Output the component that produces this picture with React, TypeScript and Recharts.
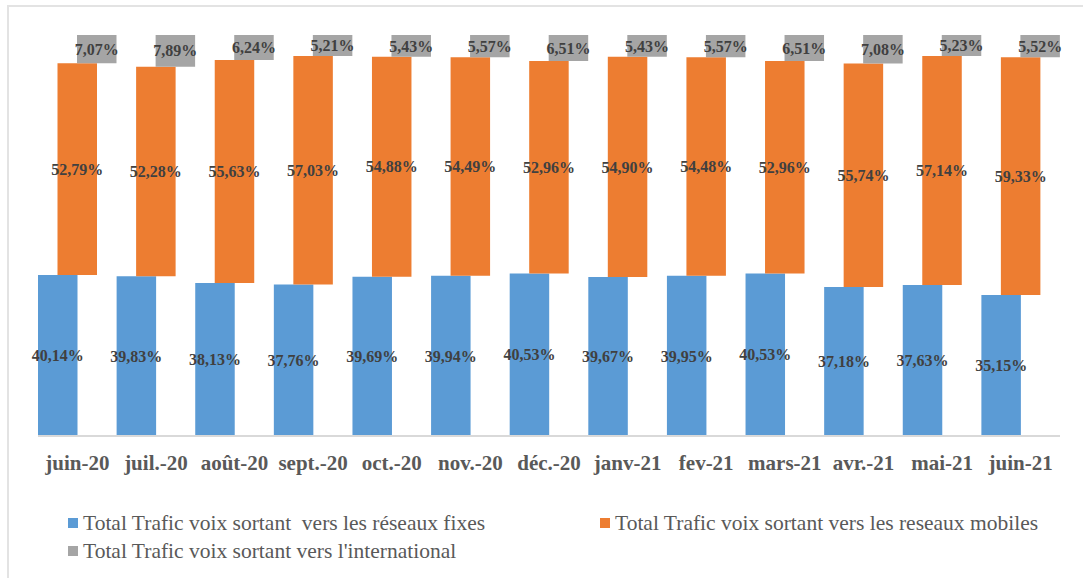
import React from "react";
import { BarChart, Bar, XAxis, YAxis, LabelList, Legend } from "recharts";

const months = [
  "juin-20", "juil.-20", "août-20", "sept.-20", "oct.-20", "nov.-20", "déc.-20",
  "janv-21", "fev-21", "mars-21", "avr.-21", "mai-21", "juin-21",
];
const fixes = [40.14, 39.83, 38.13, 37.76, 39.69, 39.94, 40.53, 39.67, 39.95, 40.53, 37.18, 37.63, 35.15];
const mobiles = [52.79, 52.28, 55.63, 57.03, 54.88, 54.49, 52.96, 54.9, 54.48, 52.96, 55.74, 57.14, 59.33];
const international = [7.07, 7.89, 6.24, 5.21, 5.43, 5.57, 6.51, 5.43, 5.57, 6.51, 7.08, 5.23, 5.52];

const seriesNames = [
  "Total Trafic voix sortant  vers les réseaux fixes",
  "Total Trafic voix sortant vers les reseaux mobiles",
  "Total Trafic voix sortant vers l'international",
];
const seriesColors = ["#5b9bd5", "#ed7d31", "#a5a5a5"];

const data = months.map((m, i) => ({
  month: m,
  fixe: fixes[i],
  mobile: mobiles[i],
  intl: international[i],
  fixeRange: [0, fixes[i]],
  mobileRange: [fixes[i], fixes[i] + mobiles[i]],
  intlRange: [fixes[i] + mobiles[i], fixes[i] + mobiles[i] + international[i]],
}));

const FONT = "'Liberation Serif', 'Times New Roman', serif";
const fmt = (v: any) => Number(v).toFixed(2).replace(".", ",") + "%";

const labelProps = {
  position: "center" as const,
  fill: "#404040",
  fontSize: 16,
  fontWeight: "bold",
  fontFamily: FONT,
  formatter: fmt,
};

const renderLegend = () => {
  return (
    <div style={{ display: "flex", flexWrap: "wrap", paddingLeft: 68, width: 1150, boxSizing: "border-box" }}>
      {seriesNames.map((name, i) => (
        <div key={i} style={{ width: 532, display: "flex", alignItems: "center", height: 28 }}>
          <span style={{ display: "inline-block", width: 10, height: 10, background: seriesColors[i], marginRight: 5, flexShrink: 0 }} />
          <span style={{ fontFamily: FONT, fontSize: 21.5, color: "#595959", whiteSpace: "pre", lineHeight: "28px" }}>
            {name}
          </span>
        </div>
      ))}
    </div>
  );
};

export default function App() {
  return (
    <div style={{ position: "absolute", left: 0, top: 0, width: 1083, height: 578, overflow: "hidden", background: "#fff" }}>
      <div style={{ position: "absolute", left: 7, top: 5, width: 1200, height: 700, border: "2px solid #e3e3e3", boxSizing: "border-box" }} />
      <div style={{ position: "absolute", left: 0, top: 0 }}>
        <BarChart
          width={1083}
          height={578}
          data={data}
          margin={{ top: 35, right: 23, left: 38, bottom: 102 }}
          barGap={-20}
        >
          <XAxis
            dataKey="month"
            height={40}
            tickLine={false}
            tickMargin={13}
            axisLine={{ stroke: "#d9d9d9", strokeWidth: 2 }}
            tick={{ fill: "#595959", fontSize: 21, fontWeight: "bold", fontFamily: FONT }}
            interval={0}
          />
          <YAxis hide width={0} domain={[0, 100]} />
          <Legend
            layout="horizontal"
            verticalAlign="middle"
            align="center"
            content={renderLegend}
            wrapperStyle={{ top: 509, left: 0, width: 1083, overflow: "hidden" }}
          />
          <Bar dataKey="fixeRange" name={seriesNames[0]} fill={seriesColors[0]} barSize={39.5} isAnimationActive={false}>
            <LabelList dataKey="fixe" {...labelProps} />
          </Bar>
          <Bar dataKey="mobileRange" name={seriesNames[1]} fill={seriesColors[1]} barSize={39.5} isAnimationActive={false}>
            <LabelList dataKey="mobile" {...labelProps} />
          </Bar>
          <Bar dataKey="intlRange" name={seriesNames[2]} fill={seriesColors[2]} barSize={39.5} isAnimationActive={false}>
            <LabelList dataKey="intl" {...labelProps} />
          </Bar>
        </BarChart>
      </div>
    </div>
  );
}
